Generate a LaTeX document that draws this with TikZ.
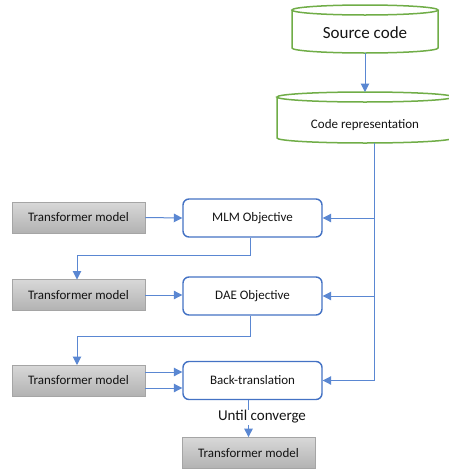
\documentclass[tikz,border=0pt]{standalone}
\usepackage{fontspec}
\setmainfont{Carlito}
\usetikzlibrary{arrows.meta,positioning}
\definecolor{cgreen}{RGB}{112,173,71}
\definecolor{cblue}{RGB}{68,114,196}
\definecolor{clink}{RGB}{90,135,210}
\definecolor{gtop}{RGB}{216,216,216}
\definecolor{gbot}{RGB}{178,178,178}
\definecolor{gborder}{RGB}{165,165,165}
\definecolor{ctext}{RGB}{20,20,20}
\tikzset{
  cyl/.style={draw=cgreen, line width=1.5pt, fill=white},
  objbox/.style={draw=cblue, line width=1.4pt, rounded corners=6pt, fill=white,
    minimum width=139pt, minimum height=38pt, inner sep=0pt, font=\fontsize{13}{15}\selectfont, text=ctext},
  tmbox/.style={draw=gborder, line width=0.8pt, top color=gtop, bottom color=gbot,
    minimum width=133pt, minimum height=31pt, inner sep=0pt, font=\fontsize{13}{15}\selectfont, text=ctext},
  link/.style={draw=clink, line width=1pt},
  arr/.style={link, -{Triangle[length=8.5pt,width=8.5pt]}, shorten >=0pt},
}
\begin{document}
\begin{tikzpicture}[x=1pt,y=-1pt]
\useasboundingbox[fill=white] (0,0) rectangle (449,469);
% cylinders
\node (src) [minimum width=146pt, minimum height=48pt, inner sep=0pt] at (365,31) {};
\draw[cyl] (292,10) -- (292,48) arc[start angle=180,end angle=360,x radius=73,y radius=-5] -- (438,10);
\draw[cyl] (365,10) ellipse[x radius=73, y radius=5];
\node[font=\fontsize{17}{20}\selectfont, text=ctext] at (365,33) {Source code};
\node (cr) [minimum width=176pt, minimum height=51pt, inner sep=0pt] at (365,117.5) {};
\draw[cyl] (277,97) -- (277,138) arc[start angle=180,end angle=360,x radius=88,y radius=-5] -- (453,97);
\draw[cyl] (365,97) ellipse[x radius=88, y radius=5];
\node[font=\fontsize{13}{15}\selectfont, text=ctext] at (365,125) {Code representation};
% boxes
\node (mlm) [objbox] at (252.5,218) {MLM Objective};
\node (dae) [objbox] at (252.5,296) {DAE Objective};
\node (bt) [objbox] at (252.5,380.5) {Back-translation};
\node (tm1) [tmbox] at (78.5,217.5) {Transformer model};
\node (tm2) [tmbox] at (78.5,295) {Transformer model};
\node (tm3) [tmbox] at (78.5,380.5) {Transformer model};
\node (tm4) [tmbox] at (248.5,453) {Transformer model};
% connectors
\coordinate (srcb) at (365,53);
\coordinate (crt) at (365,92);
\draw[arr] (srcb) -- (crt);
\coordinate (busTop) at (374,143);
\coordinate (busBot) at (374,380.5);
\draw[link] (busTop) -- (busBot);
\draw[arr] (busTop |- mlm.east) -- (mlm.east);
\draw[arr] (busTop |- dae.east) -- (dae.east);
\draw[arr] (busBot) -- (bt.east);
\draw[arr] (tm1.east) -- (mlm.west);
\draw[arr] (tm2.east) -- (dae.west |- tm2.east);
\draw[arr] ([yshift=-7.5pt]tm3.east) -- ([yshift=-7.5pt]bt.west |- tm3.east);
\draw[arr] ([yshift=8.5pt]tm3.east) -- ([yshift=8.5pt]bt.west |- tm3.east);
\coordinate (m1) at (250,255);
\draw[arr] (mlm.south -| m1) -- (m1) -- (77,255) -- (77,279.5);
\coordinate (m2) at (250,336);
\draw[arr] (dae.south -| m2) -- (m2) -- (77,336) -- (77,365);
\draw[arr] (bt.south -| tm4) -- (tm4.north);
\node[font=\fontsize{15}{18}\selectfont, text=ctext, fill=white, inner sep=1pt] at (262,417) {Until converge};
\end{tikzpicture}
\end{document}
